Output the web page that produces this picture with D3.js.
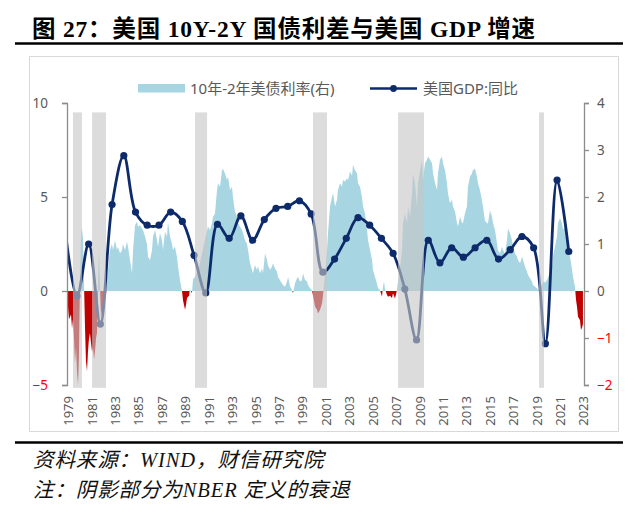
<!DOCTYPE html>
<html><head><meta charset="utf-8">
<script src="https://cdn.jsdelivr.net/npm/d3@7/dist/d3.min.js"></script>
<style>html,body{margin:0;padding:0;background:#fff;}svg{display:block;}</style>
</head><body>
<svg id="c" width="640" height="516"></svg>
<script>
// ---------- DATA ----------
const titleText = "图 27：美国 10Y-2Y 国债利差与美国 GDP 增速";
const sourceText = "资料来源：WIND，财信研究院";
const noteText = "注：阴影部分为NBER 定义的衰退";
const legendSpread = "10年-2年美债利率(右)";
const legendGdp = "美国GDP:同比";

const tickYears = [1979,1981,1983,1985,1987,1989,1991,1993,1995,1997,1999,2001,2003,2005,2007,2009,2011,2013,2015,2017,2019,2021,2023];
const leftTicks = [-5, 0, 5, 10];
const rightTicks = [-2, -1, 0, 1, 2, 3, 4];

const gdpYears = [1979,1980,1981,1982,1983,1984,1985,1986,1987,1988,1989,1990,1991,1992,1993,1994,1995,1996,1997,1998,1999,2000,2001,2002,2003,2004,2005,2006,2007,2008,2009,2010,2011,2012,2013,2014,2015,2016,2017,2018,2019,2020,2021,2022];
const gdpValues = [3.2,-0.27,2.5,-1.76,4.6,7.2,4.2,3.5,3.5,4.2,3.7,1.9,-0.1,3.55,2.8,4.0,2.7,3.8,4.4,4.5,4.8,4.1,1.0,1.7,2.8,3.9,3.5,2.8,2.0,0.1,-2.6,2.7,1.5,2.3,1.8,2.3,2.7,1.7,2.2,2.9,2.3,-2.8,5.9,2.1];

// recession shading (as placed on the chart's date axis)
const recessionStarts = [1980.16, 1981.79, 1990.58, 2000.66, 2007.92, 2019.96];
const recessionEnds   = [1980.93, 1982.98, 1991.61, 2001.85, 2010.14, 2020.38];

// 10Y-2Y spread [date on chart axis, value %]
const spreadSeries = [
[1979.65,-0.5],[1979.74,-0.35],[1979.82,-0.6],[1979.91,-0.55],[1979.99,-0.5],[1980.08,-0.8],[1980.16,-0.6],[1980.25,-1.0],[1980.33,-1.55],[1980.42,-1.2],[1980.50,-1.7],[1980.59,-2.0],[1980.67,-1.4],[1980.76,0.3],[1980.85,1.2],[1980.93,1.35],[1981.02,1.1],[1981.10,0.2],[1981.19,-0.8],[1981.27,-1.5],[1981.36,-1.7],[1981.44,-1.3],[1981.53,-1.0],[1981.61,-0.9],[1981.70,-1.1],[1981.79,-1.3],[1981.87,-1.2],[1981.96,-1.45],[1982.04,-1.3],[1982.13,-1.0],[1982.21,-0.9],[1982.30,0.3],[1982.38,0.9],[1982.47,0.1],[1982.55,-0.55],[1982.64,-0.4],[1982.72,-0.6],[1982.81,-0.3],[1982.90,-0.2],[1982.98,-0.1],[1983.07,0.3],
[1983.15,0.45],[1983.32,0.87],[1983.49,1.0],[1983.58,0.87],[1983.75,1.08],[1983.92,0.87],[1984.00,0.94],[1984.18,0.8],[1984.35,0.87],[1984.43,1.0],[1984.60,0.87],[1984.77,1.05],[1984.86,0.94],[1985.03,0.66],[1985.20,0.38],[1985.29,0.87],[1985.46,1.4],[1985.63,1.48],[1985.71,1.37],[1985.88,1.4],[1986.05,1.33],[1986.14,1.3],[1986.31,1.16],[1986.48,1.0],[1986.57,0.73],[1986.74,0.66],[1986.91,0.87],[1986.99,1.15],[1987.17,1.3],[1987.34,1.08],[1987.42,0.94],[1987.59,1.23],[1987.76,1.08],[1987.85,0.87],[1988.02,1.26],[1988.19,1.16],[1988.27,1.48],[1988.45,1.16],[1988.62,1.0],[1988.70,0.87],[1988.87,0.94],[1989.04,0.73],[1989.13,0.52],[1989.30,0.23],[1989.47,0.0],[1989.56,-0.2],[1989.73,-0.4],[1989.81,-0.3],[1989.90,-0.15],[1990.07,-0.1],[1990.15,0.05],[1990.32,-0.05],[1990.41,0.25],[1990.58,0.3],[1990.75,0.4],[1990.92,0.5],[1991.09,0.7],[1991.26,0.9],[1991.44,1.1],
[1991.69,1.37],[1991.86,1.3],[1992.03,1.44],[1992.12,1.58],[1992.29,1.65],[1992.46,2.15],[1992.55,2.29],[1992.72,2.22],[1992.89,2.57],[1992.97,2.6],[1993.14,2.5],[1993.31,2.36],[1993.40,2.43],[1993.57,2.15],[1993.74,2.22],[1993.82,2.0],[1993.99,1.69],[1994.17,1.58],[1994.25,1.44],[1994.42,1.37],[1994.59,1.3],[1994.68,1.23],[1994.85,1.08],[1995.02,1.0],[1995.11,0.87],[1995.28,0.59],[1995.45,0.45],[1995.53,0.38],[1995.70,0.55],[1995.87,0.45],[1995.96,0.52],[1996.13,0.38],[1996.30,0.48],[1996.39,0.38],[1996.56,0.8],[1996.73,0.66],[1996.81,0.55],[1996.99,0.45],[1997.16,0.52],[1997.24,0.59],[1997.41,0.48],[1997.58,0.41],[1997.67,0.3],[1997.84,0.23],[1998.01,0.16],[1998.10,0.13],[1998.27,0.09],[1998.44,0.2],[1998.53,0.3],[1998.70,0.09],[1998.87,0.02],[1998.95,-0.05],[1999.12,0.16],[1999.29,0.27],[1999.38,0.3],[1999.55,0.2],[1999.72,0.23],[1999.80,0.38],[1999.97,0.24],[2000.15,0.2],[2000.23,0.13],[2000.40,0.06],[2000.57,0.02],[2000.66,-0.1],[2000.83,-0.33],[2001.00,-0.4],[2001.08,-0.48],[2001.26,-0.4],[2001.43,-0.26],[2001.51,-0.1],[2001.68,0.35],[2001.85,0.87],[2001.94,1.23],[2002.11,1.8],[2002.28,2.0],[2002.37,2.08],[2002.54,1.8],[2002.71,1.94],[2002.79,2.15],[2002.96,2.29],[2003.13,2.22],[2003.22,2.36],[2003.39,2.33],[2003.56,2.4],[2003.65,2.36],[2003.82,2.54],[2003.99,2.45],[2004.07,2.68],[2004.25,2.57],[2004.42,2.5],[2004.50,2.29],[2004.67,2.22],[2004.84,2.0],[2004.93,1.8],[2005.10,1.65],[2005.27,1.3],[2005.36,1.08],[2005.53,0.87],[2005.70,0.66],[2005.78,0.45],[2005.95,0.3],[2006.12,0.16],[2006.21,0.06],[2006.38,0.02],[2006.55,-0.12],[2006.63,0.09],[2006.72,0.2],[2006.80,0.05],[2006.97,-0.08],[2007.06,-0.12],[2007.23,-0.1],[2007.40,-0.15],[2007.49,-0.05],[2007.66,-0.16],[2007.83,0.02],[2007.92,0.2],[2008.09,0.5],[2008.26,0.87],[2008.34,1.44],[2008.52,1.65],[2008.69,1.44],[2008.77,1.8],[2008.94,1.58],[2009.11,2.08],[2009.20,2.5],[2009.37,2.29],[2009.54,1.8],[2009.62,2.29],[2009.80,2.57],[2009.97,2.79],[2010.05,2.36],[2010.22,2.72],[2010.39,2.79],[2010.48,2.86],[2010.65,2.79],[2010.82,2.72],[2010.91,2.5],[2011.08,2.29],[2011.25,2.15],[2011.33,2.5],[2011.50,2.79],[2011.67,2.86],[2011.76,2.72],[2011.93,2.57],[2012.10,2.29],[2012.18,2.08],[2012.35,1.87],[2012.53,1.94],[2012.61,1.8],[2012.78,1.7],[2012.95,1.45],[2013.04,1.37],[2013.21,1.58],[2013.38,1.45],[2013.46,1.44],[2013.63,1.65],[2013.80,1.8],[2013.89,2.22],[2014.06,2.43],[2014.23,2.5],[2014.31,2.57],[2014.49,2.6],[2014.66,2.43],[2014.74,2.29],[2014.91,2.15],[2015.08,1.94],[2015.17,1.8],[2015.34,1.5],[2015.51,1.44],[2015.60,1.44],[2015.77,1.72],[2015.94,1.58],[2016.03,1.44],[2016.20,1.3],[2016.37,1.01],[2016.45,0.87],[2016.62,0.8],[2016.80,0.94],[2016.88,0.87],[2017.05,0.8],[2017.22,1.08],[2017.31,1.33],[2017.48,1.23],[2017.65,1.08],[2017.74,0.94],[2017.91,0.8],[2018.08,0.73],[2018.16,0.66],[2018.34,0.59],[2018.51,0.73],[2018.59,0.66],[2018.76,0.52],[2018.93,0.41],[2019.02,0.34],[2019.19,0.27],[2019.36,0.2],[2019.44,0.13],[2019.62,0.09],[2019.79,0.06],[2019.87,0.02],[2020.04,0.05],[2020.21,0.13],[2020.30,0.2],[2020.47,0.18],[2020.64,0.23],[2020.73,0.3],[2020.90,0.38],[2021.07,0.52],[2021.15,0.73],[2021.32,0.94],[2021.49,1.16],[2021.58,1.44],[2021.75,1.55],[2021.92,1.44],[2022.01,1.3],[2022.18,1.37],[2022.35,1.16],[2022.44,0.94],[2022.61,0.73],[2022.78,0.45],[2022.86,0.3],[2023.03,0.09],[2023.12,-0.19],[2023.20,-0.33],[2023.29,-0.55],[2023.46,-0.62],[2023.54,-0.83],[2023.63,-0.78],[2023.71,-0.7]
];

// ---------- LAYOUT / STYLE ----------
const plot = {left: 67, right: 584, top: 103, bottom: 385};
const xDomain = [1979.65, 2023.8];
const tickOffset = 0.75;   // date axis base month (Oct) for year labels
const gdpOffset = 0.5;     // annual values placed mid-year
const bandTop = 9.5, bandBottom = -5.15;

const colBlue = "#a8d5e2", colRed = "#c00000", colNavy = "#0d2b6b";
const colText = "#595959", colAxis = "#8c8c8c", colNeg = "#ff0000";
const sansFont = "'Noto Sans','Noto Sans CJK SC',sans-serif";
const serifFont = "'Liberation Serif','Noto Sans CJK SC',serif";

const svg = d3.select("#c");
svg.append("rect").attr("width",640).attr("height",516).attr("fill","#fff");

const x = d3.scaleLinear().domain(xDomain).range([plot.left, plot.right]);
const yL = d3.scaleLinear().domain([-5, 10]).range([plot.bottom, plot.top]);
const yR = d3.scaleLinear().domain([-2, 4]).range([plot.bottom, plot.top]);

// title
svg.append("text").attr("x", 32).attr("y", 37)
  .attr("font-family", serifFont).attr("font-weight", "bold").attr("font-size", 23.5)
  .attr("letter-spacing", 0.8).attr("fill", "#000").text(titleText);
svg.append("line").attr("x1", 15).attr("x2", 623).attr("y1", 43.5).attr("y2", 43.5)
  .attr("stroke", "#000").attr("stroke-width", 2.5);

// chart border
svg.append("rect").attr("x", 29.5).attr("y", 56.5).attr("width", 589).attr("height", 375)
  .attr("fill", "none").attr("stroke", "#d9d9d9").attr("stroke-width", 1);

// clip paths
const defs = svg.append("defs");
defs.append("clipPath").attr("id", "plotClip").append("rect")
  .attr("x", plot.left).attr("y", 60).attr("width", plot.right - plot.left).attr("height", 340);
defs.append("clipPath").attr("id", "posClip").append("rect")
  .attr("x", plot.left).attr("y", 60).attr("width", plot.right - plot.left).attr("height", yR(0) - 60);
defs.append("clipPath").attr("id", "negClip").append("rect")
  .attr("x", plot.left).attr("y", yR(0)).attr("width", plot.right - plot.left).attr("height", 400 - yR(0));

// spread area
const area = d3.area().x(d => x(d[0])).y0(yR(0)).y1(d => yR(d[1])).curve(d3.curveLinear);
svg.append("path").datum(spreadSeries).attr("d", area).attr("fill", colBlue).attr("clip-path", "url(#posClip)");
svg.append("path").datum(spreadSeries).attr("d", area).attr("fill", colRed).attr("clip-path", "url(#negClip)");

// GDP line
const gdpData = gdpYears.map((yr, i) => [yr + gdpOffset, gdpValues[i]]);
const gLine = svg.append("g").attr("clip-path", "url(#plotClip)");
gLine.append("path").datum(gdpData)
  .attr("d", d3.line().x(d => x(d[0])).y(d => yL(d[1])).curve(d3.curveCatmullRom.alpha(0.5)))
  .attr("fill", "none").attr("stroke", colNavy).attr("stroke-width", 2.8);
gLine.selectAll("circle").data(gdpData.filter(d => d[0] >= xDomain[0])).enter().append("circle")
  .attr("cx", d => x(d[0])).attr("cy", d => yL(d[1])).attr("r", 3.6).attr("fill", colNavy);

// recession bands (semi-transparent, on top)
const bands = recessionStarts.map((s, i) => [s, recessionEnds[i]]);
svg.append("g").selectAll("rect").data(bands).enter().append("rect")
  .attr("x", d => x(d[0])).attr("width", d => x(d[1]) - x(d[0]))
  .attr("y", yL(bandTop)).attr("height", yL(bandBottom) - yL(bandTop))
  .attr("fill", "#c6c6c6").attr("opacity", 0.62);

// left axis
const axL = svg.append("g").attr("transform", `translate(${plot.left},0)`)
  .call(d3.axisLeft(yL).tickValues(leftTicks).tickSize(5).tickPadding(14).tickFormat(d3.format("d")));
axL.select(".domain").attr("stroke", colAxis).attr("stroke-width", 1.3);
axL.selectAll(".tick line").attr("stroke", colAxis).attr("stroke-width", 1.3);
axL.selectAll(".tick text").attr("font-family", sansFont).attr("font-size", 13.5)
  .attr("fill", d => d < 0 ? colNeg : colText);

// right axis
const axR = svg.append("g").attr("transform", `translate(${plot.right},0)`)
  .call(d3.axisRight(yR).tickValues(rightTicks).tickSize(5).tickPadding(8).tickFormat(d3.format("d")));
axR.select(".domain").attr("stroke", colAxis).attr("stroke-width", 1.3);
axR.selectAll(".tick line").attr("stroke", colAxis).attr("stroke-width", 1.3);
axR.selectAll(".tick text").attr("font-family", sansFont).attr("font-size", 13.5)
  .attr("fill", d => d < 0 ? colNeg : colText);

// bottom axis (labels only)
const axB = svg.append("g").attr("transform", `translate(0,${plot.bottom})`)
  .call(d3.axisBottom(x).tickValues(tickYears.map(yv => yv + tickOffset)).tickSize(0)
    .tickFormat(d => String(Math.round(d - tickOffset))));
axB.select(".domain").remove();
axB.selectAll(".tick text")
  .attr("transform", "rotate(-90)").attr("text-anchor", "end")
  .attr("x", -11).attr("y", 0).attr("dy", "0.35em")
  .attr("font-family", sansFont).attr("font-size", 13).attr("fill", colText);

// legend
const lg = svg.append("g");
lg.append("rect").attr("x", 138).attr("y", 84).attr("width", 47).attr("height", 8.5).attr("fill", colBlue);
lg.append("text").attr("x", 190).attr("y", 93.5).attr("font-family", sansFont).attr("font-size", 15)
  .attr("fill", colText).text(legendSpread);
lg.append("line").attr("x1", 370).attr("x2", 417).attr("y1", 88.5).attr("y2", 88.5)
  .attr("stroke", colNavy).attr("stroke-width", 2.6);
lg.append("circle").attr("cx", 393.5).attr("cy", 88.5).attr("r", 3.4).attr("fill", colNavy);
lg.append("text").attr("x", 423).attr("y", 93.5).attr("font-family", sansFont).attr("font-size", 15)
  .attr("fill", colText).text(legendGdp);

// footnotes
svg.append("line").attr("x1", 15).attr("x2", 623).attr("y1", 442.5).attr("y2", 442.5)
  .attr("stroke", "#000").attr("stroke-width", 2.5);
svg.append("text").attr("x", 33).attr("y", 467).attr("font-family", serifFont).attr("font-style", "italic")
  .attr("font-size", 20.5).attr("letter-spacing", 0.9).attr("fill", "#111").text(sourceText);
svg.append("text").attr("x", 33).attr("y", 497).attr("font-family", serifFont).attr("font-style", "italic")
  .attr("font-size", 20.5).attr("letter-spacing", 0.9).attr("fill", "#111").text(noteText);
</script>
</body></html>
